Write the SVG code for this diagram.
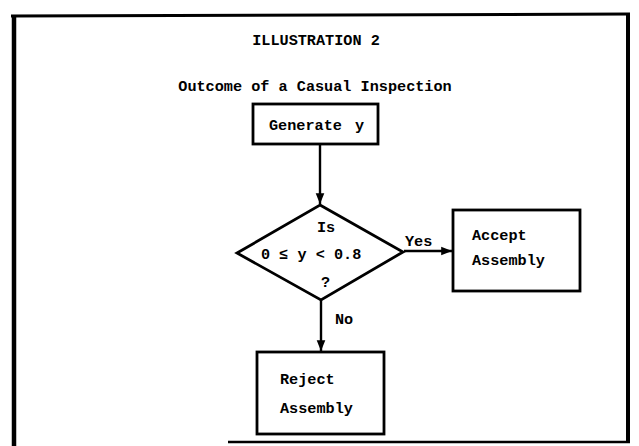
<svg xmlns="http://www.w3.org/2000/svg" width="639" height="446" viewBox="0 0 639 446">
<defs>
<marker id="arr" viewBox="0 0 10 10" refX="10" refY="5" markerWidth="4.5" markerHeight="4.5" markerUnits="strokeWidth" orient="auto">
<path d="M0,1 L10,5 L0,9 z" fill="#000"/>
</marker>
<style>
text{font-family:"Liberation Mono","DejaVu Sans Mono",monospace;font-weight:bold;font-size:15.2px;fill:#000}
.box{fill:#fff;stroke:#000;stroke-width:2.8}
.ln{stroke:#000;stroke-width:2.4;fill:none}
.frame{stroke:#000;fill:none}
</style>
</defs>
<rect width="639" height="446" fill="#fff"/>
<g id="frame">
<path class="frame" stroke-width="3" d="M11,16 L630,14"/>
<path class="frame" stroke-width="4.5" d="M14,16 L14,446"/>
<path class="frame" stroke-width="4" d="M628,14 L628,443"/>
<path class="frame" stroke-width="2.5" d="M228,442 L630,442"/>
</g>
<g id="title">
<text x="316" y="45" text-anchor="middle">ILLUSTRATION 2</text>
<text x="315" y="91" text-anchor="middle">Outcome of a Casual Inspection</text>
</g>
<g id="connectors">
<line class="ln" x1="320" y1="144" x2="320" y2="204" marker-end="url(#arr)"/>
<line class="ln" x1="404" y1="251" x2="452" y2="251" marker-end="url(#arr)"/>
<line class="ln" x1="321" y1="300" x2="321" y2="351" marker-end="url(#arr)"/>
<text x="405" y="246">Yes</text>
<text x="335" y="324">No</text>
</g>
<g id="generate">
<rect class="box" x="253" y="104" width="125" height="40"/>
<text x="269" y="130">Generate<tspan dx="4"> y</tspan></text>
</g>
<g id="decision">
<polygon class="box" points="320,205 403,252 321,300 237,253"/>
<text x="317" y="232">Is</text>
<text x="261" y="259">0 ≤ y &lt; 0.8</text>
<text x="321" y="287">?</text>
</g>
<g id="accept">
<rect class="box" x="453" y="210" width="127" height="81"/>
<text x="472" y="240">Accept</text>
<text x="472" y="265">Assembly</text>
</g>
<g id="reject">
<rect class="box" x="257" y="352" width="127" height="82"/>
<text x="280" y="384">Reject</text>
<text x="280" y="413">Assembly</text>
</g>
</svg>
